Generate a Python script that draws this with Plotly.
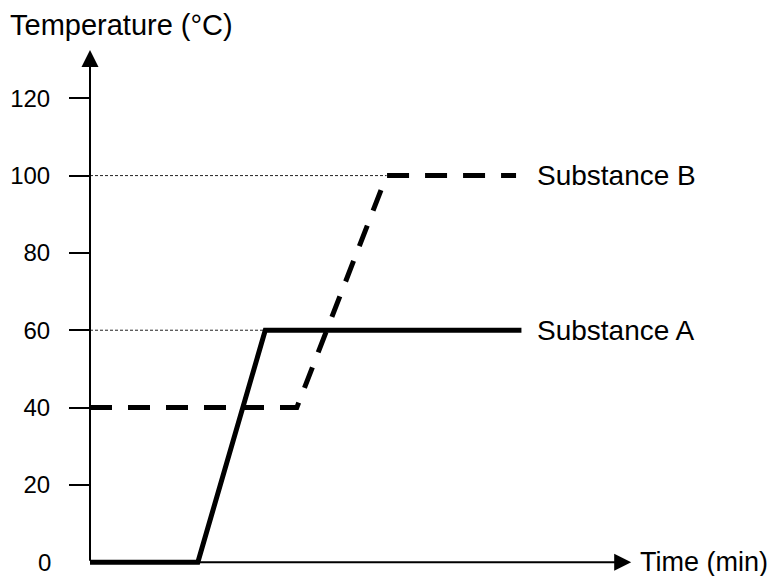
import plotly.graph_objects as go

# Data (time in arbitrary minutes, temperature in °C)
time_a = [0, 4, 6.5, 16]
temp_a = [0, 0, 60, 60]
time_b = [0, 7.67, 11, 15.8]
temp_b = [40, 40, 100, 100]
ref_time_a = [0, 6.5]
ref_temp_a = [60, 60]
ref_time_b = [0, 11]
ref_temp_b = [100, 100]
y_ticks = [20, 40, 60, 80, 100, 120]
y_ticktext = ["20", "40", "60", "80", "100", "120"]

FONT = "Liberation Sans, Arial, sans-serif"
X_MAX = 20.1
X_TIP = 20.07
Y_MAX = 133
Y_TIP = 132.5

fig = go.Figure()
fig.add_trace(go.Scatter(x=ref_time_b, y=ref_temp_b, mode="lines",
                         line=dict(color="#222", width=1, dash="3px,2px"), hoverinfo="skip"))
fig.add_trace(go.Scatter(x=ref_time_a, y=ref_temp_a, mode="lines",
                         line=dict(color="#222", width=1, dash="3px,2px"), hoverinfo="skip"))
fig.add_trace(go.Scatter(x=time_a, y=temp_a, mode="lines", name="Substance A",
                         line=dict(color="black", width=5)))
fig.add_trace(go.Scatter(x=time_b, y=temp_b, mode="lines", name="Substance B",
                         line=dict(color="black", width=5, dash="22px,16px")))

annotations = [
    # x axis with arrow
    dict(x=X_TIP, y=0, ax=0, ay=0, xref="x", yref="y", axref="x", ayref="y",
         showarrow=True, arrowhead=2, arrowsize=1.7, arrowwidth=2, arrowcolor="black", text=""),
    # y axis with arrow
    dict(x=0, y=Y_TIP, ax=0, ay=0, xref="x", yref="y", axref="x", ayref="y",
         showarrow=True, arrowhead=2, arrowsize=1.7, arrowwidth=2, arrowcolor="black", text=""),
    dict(x=0, y=0, xref="paper", yref="y", text="0", showarrow=False,
         xanchor="right", yanchor="middle", xshift=-37, font=dict(size=24, family=FONT, color="black")),
    dict(x=-0.1513, y=1.0442, xref="paper", yref="paper", text="Temperature (°C)", showarrow=False,
         xanchor="left", yanchor="middle", font=dict(size=29, family=FONT, color="black")),
    dict(x=1.011, y=0, xref="paper", yref="y", text="Time (min)", showarrow=False,
         xanchor="left", yanchor="middle", font=dict(size=27, family=FONT, color="black")),
    dict(x=16.5, y=100, xref="x", yref="y", text="Substance B", showarrow=False,
         xanchor="left", yanchor="middle", font=dict(size=28, family=FONT, color="black")),
    dict(x=16.5, y=60, xref="x", yref="y", text="Substance A", showarrow=False,
         xanchor="left", yanchor="middle", font=dict(size=28, family=FONT, color="black")),
]

fig.update_layout(
    width=776, height=576,
    margin=dict(l=90, r=144, t=48, b=8),
    paper_bgcolor="white", plot_bgcolor="white",
    showlegend=False,
    annotations=annotations,
    font=dict(family=FONT, color="black"),
)
fig.update_xaxes(range=[0, X_MAX], showgrid=False, zeroline=False, showline=False,
                 showticklabels=False, ticks="", automargin=False)
fig.update_yaxes(range=[-1.5, Y_MAX], showgrid=False, zeroline=False, showline=False,
                 tickvals=y_ticks, ticktext=y_ticktext, ticks="outside", ticklen=20,
                 tickwidth=2, tickcolor="black", ticklabelstandoff=14, automargin=False,
                 tickfont=dict(size=24, family=FONT, color="black"))

fig.write_html("out.html", config={"displayModeBar": False},
               post_script="document.body.style.margin='0';document.body.style.overflow='hidden';")
